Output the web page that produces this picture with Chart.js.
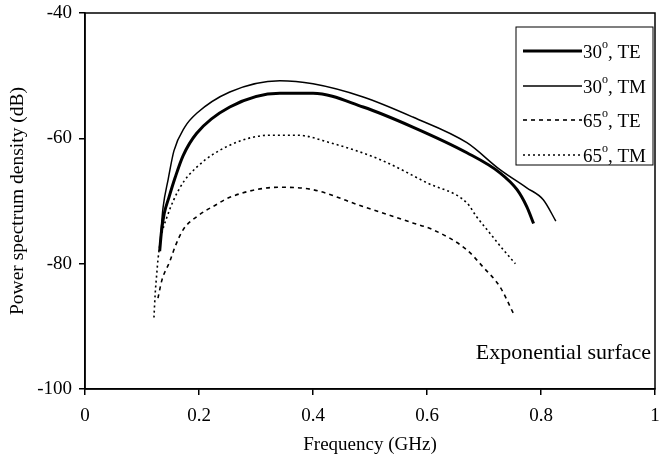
<!DOCTYPE html>
<html>
<head>
<meta charset="utf-8">
<script src="https://cdn.jsdelivr.net/npm/chart.js@4/dist/chart.umd.min.js"></script>
<style>
  html, body { margin: 0; padding: 0; background: #fff; }
  #wrap { width: 663px; height: 459px; }
</style>
</head>
<body>
<div id="wrap"><canvas id="c" width="663" height="459"></canvas></div>
<script>
// ---- data ----
const te30Freq = [0.131, 0.134, 0.139, 0.147, 0.158, 0.172, 0.196, 0.254, 0.342, 0.400, 0.488, 0.575, 0.670, 0.728, 0.758, 0.775, 0.787];
const te30Psd  = [-78.0, -75.0, -72.0, -69.5, -66.3, -62.8, -59.2, -55.0, -52.8, -52.8, -55.0, -58.2, -62.3, -65.5, -68.2, -70.9, -73.6];

const tm30Freq = [0.131, 0.134, 0.137, 0.146, 0.156, 0.175, 0.196, 0.254, 0.342, 0.400, 0.488, 0.575, 0.670, 0.728, 0.775, 0.804, 0.826];
const tm30Psd  = [-78.0, -74.0, -71.0, -66.5, -62.0, -58.2, -56.0, -52.6, -50.8, -51.3, -53.4, -56.6, -60.7, -65.0, -67.9, -69.8, -73.2];

const te65Freq = [0.128, 0.135, 0.149, 0.158, 0.172, 0.196, 0.230, 0.254, 0.342, 0.400, 0.488, 0.575, 0.611, 0.670, 0.698, 0.728, 0.752];
const te65Psd  = [-85.5, -82.6, -79.6, -77.3, -74.6, -72.5, -70.6, -69.4, -67.8, -68.2, -70.9, -73.5, -74.6, -77.8, -80.5, -83.7, -88.0];

const tm65Freq = [0.121, 0.123, 0.126, 0.128, 0.133, 0.144, 0.167, 0.196, 0.254, 0.325, 0.372, 0.430, 0.518, 0.600, 0.670, 0.687, 0.710, 0.734, 0.755];
const tm65Psd  = [-88.6, -85.0, -81.5, -79.4, -76.0, -72.5, -67.8, -64.6, -61.1, -59.5, -59.5, -60.7, -63.4, -67.1, -70.3, -72.5, -75.1, -77.8, -80.0];

const seriesAngles = ['30', '30', '65', '65'];
const seriesModes  = ['TE', 'TM', 'TE', 'TM'];
const xTicks = [0, 0.2, 0.4, 0.6, 0.8, 1];
const yTicks = [-100, -80, -60, -40];
const xTitle = 'Frequency (GHz)';
const yTitle = 'Power spectrum density (dB)';
const noteText = 'Exponential surface';

const FONT = '"Liberation Serif", "Times New Roman", serif';

function pts(xs, ys) { return xs.map((x, i) => ({ x: x, y: ys[i] })); }

const baseDs = { fill: false, pointRadius: 0, borderColor: '#000', backgroundColor: '#000', cubicInterpolationMode: 'monotone' };

const datasets = [
  Object.assign({}, baseDs, { label: seriesAngles[0] + '°, ' + seriesModes[0], data: pts(te30Freq, te30Psd), borderWidth: 3, borderDash: [] }),
  Object.assign({}, baseDs, { label: seriesAngles[1] + '°, ' + seriesModes[1], data: pts(tm30Freq, tm30Psd), borderWidth: 1.5, borderDash: [] }),
  Object.assign({}, baseDs, { label: seriesAngles[2] + '°, ' + seriesModes[2], data: pts(te65Freq, te65Psd), borderWidth: 1.6, borderDash: [4, 4] }),
  Object.assign({}, baseDs, { label: seriesAngles[3] + '°, ' + seriesModes[3], data: pts(tm65Freq, tm65Psd), borderWidth: 1.6, borderDash: [2, 3] })
];

const decorPlugin = {
  id: 'decor',
  afterDraw(chart) {
    const ctx = chart.ctx;
    const a = chart.chartArea;
    ctx.save();
    // frame (top & right)
    ctx.strokeStyle = '#000';
    ctx.lineWidth = 1.5;
    ctx.setLineDash([]);
    ctx.strokeRect(a.left, a.top, a.right - a.left, a.bottom - a.top);

    // legend box
    const boxL = a.right - 139, boxT = a.top + 14, boxR = a.right - 2, boxB = a.top + 152;
    ctx.lineWidth = 1;
    ctx.strokeRect(boxL, boxT, boxR - boxL, boxB - boxT);
    const rowY = [a.top + 38, a.top + 73, a.top + 107, a.top + 142];
    chart.data.datasets.forEach((ds, i) => {
      const y = rowY[i];
      ctx.beginPath();
      ctx.strokeStyle = '#000';
      ctx.lineWidth = ds.borderWidth;
      ctx.setLineDash(ds.borderDash || []);
      ctx.moveTo(boxL + 7, y);
      ctx.lineTo(boxL + 66, y);
      ctx.stroke();
      ctx.setLineDash([]);
      ctx.fillStyle = '#000';
      ctx.textBaseline = 'alphabetic';
      ctx.textAlign = 'left';
      let x = boxL + 67;
      const base = y + 7;
      ctx.font = '19px ' + FONT;
      ctx.fillText(seriesAngles[i], x, base);
      x += ctx.measureText(seriesAngles[i]).width;
      ctx.font = '12px ' + FONT;
      ctx.fillText('o', x, base - 10);
      x += ctx.measureText('o').width;
      ctx.font = '19px ' + FONT;
      ctx.fillText(', ' + seriesModes[i], x, base);
    });

    // annotation
    ctx.font = '22px ' + FONT;
    ctx.fillStyle = '#000';
    ctx.textAlign = 'right';
    ctx.textBaseline = 'alphabetic';
    ctx.fillText(noteText, a.right - 4, a.bottom - 30);
    ctx.restore();
  }
};

new Chart(document.getElementById('c'), {
  type: 'line',
  data: { datasets: datasets },
  options: {
    responsive: false,
    animation: false,
    layout: { padding: { left: 0, right: 8, top: 13, bottom: 0 } },
    plugins: { legend: { display: false }, tooltip: { enabled: false } },
    scales: {
      x: {
        type: 'linear',
        min: 0, max: 1,
        afterBuildTicks: (s) => { s.ticks = xTicks.map(v => ({ value: v })); },
        afterFit: (s) => { s.height = 70; s.paddingLeft = 0; s.paddingRight = 0; },
        ticks: {
          color: '#000',
          font: { family: FONT, size: 19 },
          padding: 10,
          maxRotation: 0,
          callback: (v) => String(v)
        },
        grid: { drawOnChartArea: false, drawTicks: true, tickLength: 6, color: '#000', lineWidth: 1.5 },
        border: { display: true, color: '#000', width: 1.5 },
        title: { display: true, text: xTitle, color: '#000', font: { family: FONT, size: 19 }, padding: { top: 0, bottom: 3 } }
      },
      y: {
        type: 'linear',
        min: -100, max: -40,
        afterBuildTicks: (s) => { s.ticks = yTicks.map(v => ({ value: v })); },
        afterFit: (s) => { s.width = 85; s.paddingTop = 0; s.paddingBottom = 0; },
        ticks: {
          color: '#000',
          font: { family: FONT, size: 19 },
          padding: 7,
          callback: (v) => String(v)
        },
        grid: { drawOnChartArea: false, drawTicks: true, tickLength: 6, color: '#000', lineWidth: 1.5 },
        border: { display: true, color: '#000', width: 1.5 },
        title: { display: true, text: yTitle, color: '#000', font: { family: FONT, size: 19.5 }, padding: { top: 6, bottom: 0 } }
      }
    }
  },
  plugins: [decorPlugin]
});
</script>
</body>
</html>
